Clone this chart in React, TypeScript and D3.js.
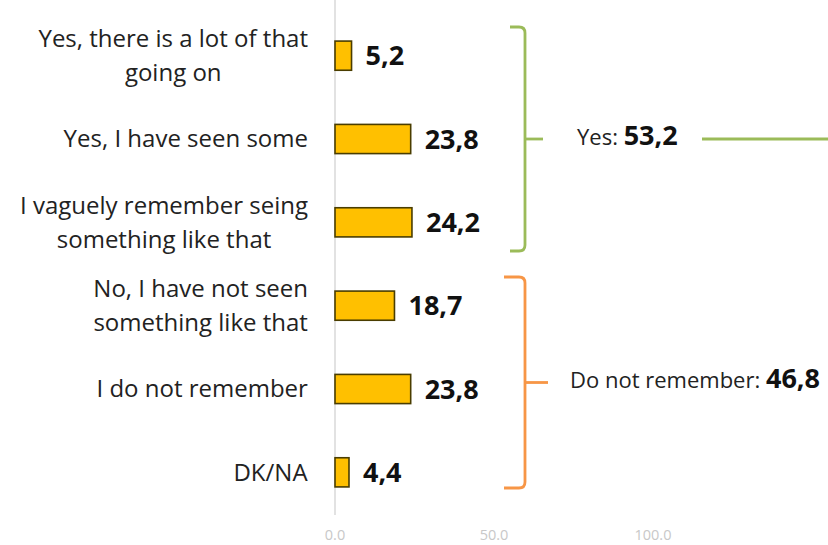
import React, { useEffect, useRef } from "react";
import * as d3 from "d3";

const categories: string[][] = [
  ["Yes, there is a lot of that", "going on"],
  ["Yes, I have seen some"],
  ["I vaguely remember seing", "something like that"],
  ["No, I have not seen", "something like that"],
  ["I do not remember"],
  ["DK/NA"],
];
const values: number[] = [5.2, 23.8, 24.2, 18.7, 23.8, 4.4];
const valueLabels: string[] = ["5,2", "23,8", "24,2", "18,7", "23,8", "4,4"];
const ticks: number[] = [0, 50, 100];
const tickLabels: string[] = ["0.0", "50.0", "100.0"];
const groupNames: string[] = ["Yes: ", "Do not remember: "];
const groupTotals: string[] = ["53,2", "46,8"];
const groupRanges: number[][] = [[0, 2], [3, 5]];
const groupColors: string[] = ["#9BBB59", "#F79646"];

export default function App() {
  const ref = useRef<SVGSVGElement>(null);
  useEffect(() => {
    const svg = d3.select(ref.current);
    svg.selectAll("*").remove();
    const W = 828, H = 545;
    const x = d3.scaleLinear().domain([0, 100]).range([335, 653]);
    const y = d3.scaleBand<number>().domain(d3.range(values.length)).range([14, 514]).paddingInner(0.65).paddingOuter(0.325);
    const font = "'Open Sans', sans-serif";

    svg.append("rect").attr("width", W).attr("height", H).attr("fill", "#fff");

    // axis line
    svg.append("line").attr("x1", x(0)).attr("x2", x(0)).attr("y1", 0).attr("y2", 515)
      .attr("stroke", "#d9d9d9").attr("stroke-width", 1.5);

    // tick labels
    svg.selectAll("text.tick").data(ticks).join("text").attr("class", "tick")
      .attr("x", d => x(d)).attr("y", 540).attr("text-anchor", "middle")
      .attr("font-family", font).attr("font-size", 14.5).attr("fill", "#c8c8c8")
      .text((d, i) => tickLabels[i]);

    // bars
    svg.selectAll("rect.bar").data(values).join("rect").attr("class", "bar")
      .attr("x", x(0)).attr("y", (d, i) => y(i)!).attr("width", d => x(d) - x(0))
      .attr("height", y.bandwidth()).attr("fill", "#FFC000").attr("stroke", "#4a3d00").attr("stroke-width", 1.6);

    // value labels
    svg.selectAll("text.val").data(values).join("text").attr("class", "val")
      .attr("x", d => x(d) + 14).attr("y", (d, i) => y(i)! + y.bandwidth() / 2)
      .attr("dy", "0.36em").attr("font-family", font).attr("font-weight", 700).attr("font-size", 27)
      .attr("fill", "#111").text((d, i) => valueLabels[i]);

    // category labels
    const lh = 34;
    categories.forEach((lines, i) => {
      const cy = y(i)! + y.bandwidth() / 2;
      const g = svg.append("g");
      const t = g.append("text").attr("font-family", font).attr("font-size", 24).attr("fill", "#222")
        .attr("text-anchor", "middle");
      lines.forEach((ln, j) => {
        t.append("tspan").attr("x", 0).attr("y", cy + (j - (lines.length - 1) / 2) * lh).attr("dy", "0.35em").text(ln);
      });
      const bb = (t.node() as SVGTextElement).getBBox();
      t.attr("transform", `translate(${308 - bb.width / 2},0)`);
    });

    // brackets
    groupRanges.forEach((r, gi) => {
      const top = y(r[0])! - y.step() * 0.325 + 13;
      const bot = y(r[1])! + y.bandwidth() + y.step() * 0.325 - 13 - (gi === 1 ? 13 : 0);
      const xv = 525;
      const xl = gi === 0 ? 510 : 504;
      const mid = (top + bot) / 2;
      const col = groupColors[gi];
      const p = d3.path();
      p.moveTo(xl, top);
      p.lineTo(xv - 6, top);
      p.quadraticCurveTo(xv, top, xv, top + 6);
      p.lineTo(xv, bot - 6);
      p.quadraticCurveTo(xv, bot, xv - 6, bot);
      p.lineTo(xl, bot);
      svg.append("path").attr("d", p.toString()).attr("fill", "none").attr("stroke", col).attr("stroke-width", 2.8);
      svg.append("line").attr("x1", xv).attr("x2", gi === 0 ? 543 : 548).attr("y1", mid).attr("y2", mid)
        .attr("stroke", col).attr("stroke-width", 2.8);
      const t = svg.append("text").attr("x", gi === 0 ? 577 : 570).attr("y", mid).attr("dy", "0.35em")
        .attr("font-family", font).attr("fill", "#222");
      t.append("tspan").attr("font-size", 22).text(groupNames[gi]);
      t.append("tspan").attr("font-size", 27).attr("font-weight", 700).attr("fill", "#111").text(groupTotals[gi]);
      if (gi === 0) {
        svg.append("line").attr("x1", 702).attr("x2", 830).attr("y1", mid).attr("y2", mid)
          .attr("stroke", col).attr("stroke-width", 2.8);
      }
    });
  }, []);
  return <svg ref={ref} width={828} height={545} style={{ position: "absolute", left: 0, top: 0 }} />;
}
